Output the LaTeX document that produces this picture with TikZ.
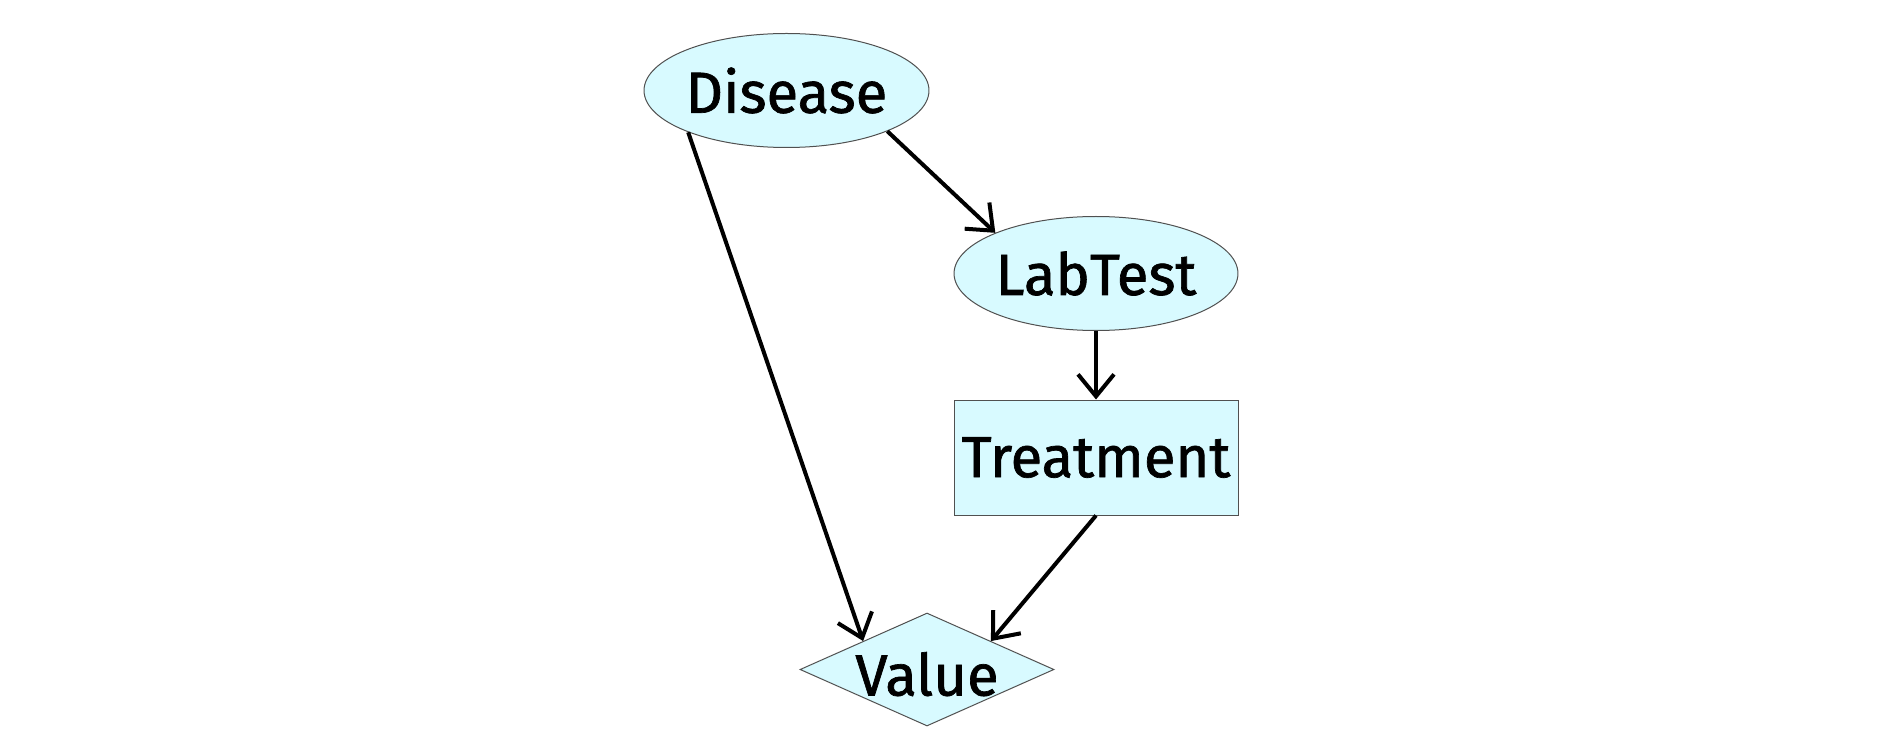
\documentclass[tikz,border=0pt]{standalone}
\usepackage{fontspec}
\setmainfont{Fira Sans}
\newfontfamily\nodefont[FakeBold=1.2]{Fira Sans}
\usetikzlibrary{shapes.geometric,arrows.meta}
\definecolor{nodefill}{RGB}{216,250,255}
\definecolor{nodeline}{RGB}{80,80,80}
\begin{document}
\begin{tikzpicture}[x=0.5pt,y=-0.5pt,
  base/.style={draw=nodeline,line width=0.5pt,fill=nodefill,inner sep=0pt,
    font=\nodefont\fontsize{29}{32}\selectfont},
  chance/.style={base,ellipse,minimum width=141.5pt,minimum height=57pt},
  decision/.style={base,rectangle,minimum width=142pt,minimum height=57.5pt},
  utility/.style={base,diamond,minimum width=127pt,minimum height=56.5pt},
  link/.style={line width=2pt,-{Straight Barb[length=11pt,width=18pt,line width=2pt]}}]
\useasboundingbox (0,0) rectangle (1882,748);
\node[chance] (D) at (786.5,90.5) {Disease};
\node[chance] (L) at (1096,273.5) {LabTest};
\node[decision] (T) at (1096,457.5) {Treatment};
\node[utility] (V) at (927,669.5) {\smash{\makebox[0pt]{\raisebox{-13pt}{Value}}}};
\draw[link] (D.203) -- (V.156);
\draw[link] (D.-22.6) -- (L.158.2);
\draw[link] (L.south) -- (T.north);
\draw[link] (T.south) -- (V.24);
\end{tikzpicture}
\end{document}
